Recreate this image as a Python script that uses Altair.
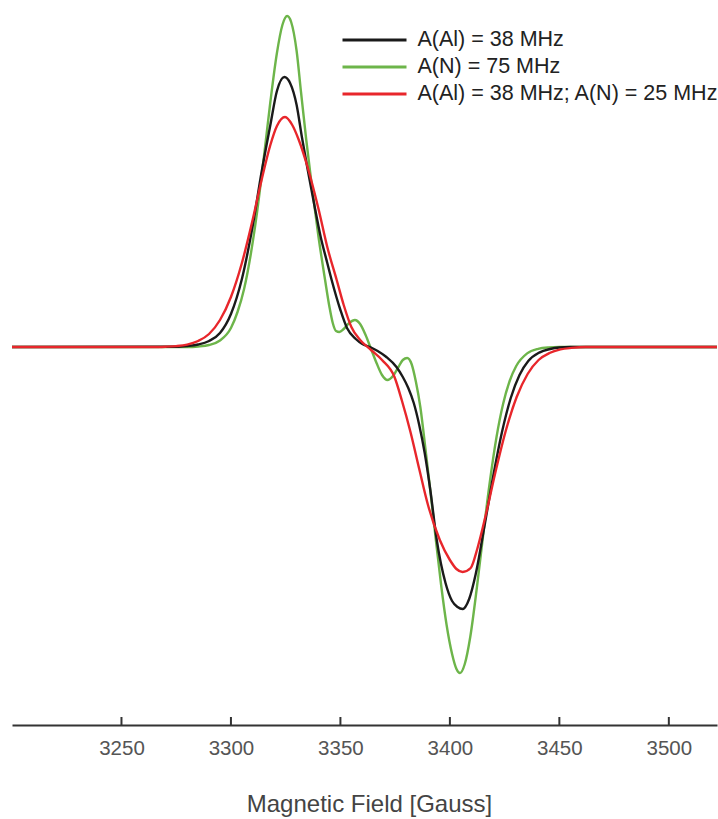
import altair as alt
import pandas as pd

LABELS = ["A(Al) = 38 MHz", "A(N) = 75 MHz", "A(Al) = 38 MHz; A(N) = 25 MHz"]
COLORS = ["#1a1a1a", "#6db54a", "#e8262b"]
tick_values = [3250, 3300, 3350, 3400, 3450, 3500]

# Magnetic field [Gauss] and derivative signal (arbitrary units)
black_field = [3200, 3275, 3280, 3285, 3290, 3295, 3300, 3305, 3310, 3314, 3318, 3321, 3324.4,
               3327, 3330, 3332.4, 3335, 3338, 3341, 3344, 3346, 3350, 3353, 3357, 3360, 3363.5,
               3367, 3371, 3375.6, 3378.5, 3381, 3383.5, 3386, 3388.5, 3391, 3394, 3398, 3401,
               3403.5, 3405.8, 3408.8, 3411.8, 3415.8, 3419.8, 3423.8, 3427.8, 3431.8, 3435.8,
               3440.8, 3445.8, 3450, 3455, 3522]
black_signal = [0, 0.2, 1, 2.5, 6, 14, 33, 68, 122, 175, 222, 256, 270,
                264, 242, 210, 178, 143, 110, 84, 67, 37, 19, 8, 3, 0,
                -4, -10, -20, -30, -41, -56, -78, -106, -142, -193, -236, -254,
                -260, -262, -252, -227, -179, -129, -85, -51, -28, -14,
                -5.6, -2, -0.5, 0, 0]

green_field = [3200, 3280, 3285, 3290, 3295, 3300, 3303, 3306, 3309, 3312, 3315, 3318, 3321,
               3323.5, 3325.7, 3327.5, 3330, 3332, 3334.4, 3337, 3340, 3343, 3345, 3346.5, 3348,
               3349.5, 3351.5, 3354, 3356.6, 3359, 3361.5, 3364, 3366.5, 3369, 3371.5, 3374,
               3376.5, 3378.5, 3380.5, 3382.5, 3384.5, 3386.5, 3389, 3391.5, 3393.6, 3396,
               3398.5, 3401, 3403, 3404.6, 3406.8, 3409.3, 3412.3, 3415.3, 3418.3, 3421.3,
               3424.3, 3427.3, 3430.3, 3435.3, 3440.3, 3445, 3450, 3522]
green_signal = [0, 0, 0.5, 2, 6.5, 19, 35, 58, 92, 136, 189, 245, 294,
                322, 331, 325, 296, 255, 207, 160, 110, 67, 40, 24, 16,
                15, 18, 24, 27, 23, 12, -2, -16, -28, -33, -29,
                -20, -13, -11, -17, -35, -60, -105, -152, -193, -238,
                -278, -307, -322, -326, -317, -290, -241, -186, -134, -90,
                -57, -34, -19, -6.4, -1.8, -0.4, 0, 0]

red_field = [3200, 3265, 3270, 3275, 3280, 3285, 3290, 3295, 3300, 3305, 3310, 3314, 3318,
             3321, 3324.7, 3328, 3331, 3335, 3340, 3344, 3348.3, 3351.5, 3355, 3359, 3364,
             3369, 3374.7, 3378, 3382, 3386, 3390, 3395.4, 3400, 3403, 3405.8, 3409.5,
             3412.5, 3416.5, 3420.5, 3425.5, 3430.5, 3435.5, 3440.5, 3445.5, 3450.5, 3455.5,
             3462, 3522]
red_signal = [0, 0, 0.3, 0.9, 2.4, 6, 13, 27, 50, 84, 128, 167, 202,
              221, 230, 222, 207, 180, 138, 100, 67, 42, 20, 7, -3,
              -13, -30, -53, -85, -122, -158, -193, -213, -222, -225, -221,
              -202, -167, -128, -84, -50, -27, -13, -6, -2.4, -0.9,
              0, 0]

series = [
    (LABELS[1], green_field, green_signal),
    (LABELS[0], black_field, black_signal),
    (LABELS[2], red_field, red_signal),
]
rows = []
for name, xs, ys in series:
    for x, y in zip(xs, ys):
        rows.append({"series": name, "field": x, "signal": y})
df = pd.DataFrame(rows)

W, H = 705, 725
FONT = "Liberation Sans"
x_scale = alt.Scale(domain=[3200, 3522], nice=False, zero=False)
y_scale = alt.Scale(domain=[-378, 347], nice=False, zero=False)

lines = alt.Chart(df).mark_line(strokeWidth=2.4, interpolate="monotone").encode(
    x=alt.X("field:Q", scale=x_scale,
            axis=alt.Axis(values=tick_values, format="d", title="Magnetic Field [Gauss]",
                          ticks=False, grid=False, domainColor="#333", domainWidth=2,
                          labelFont=FONT, labelFontSize=20.5, labelColor="#555",
                          labelPadding=13, titleFont=FONT, titleFontSize=24,
                          titleColor="#444", titleFontWeight="normal", titlePadding=34,
                          titleX=357)),
    y=alt.Y("signal:Q", scale=y_scale, axis=None),
    color=alt.Color("series:N", scale=alt.Scale(domain=LABELS, range=COLORS),
                    legend=alt.Legend(title=None, orient="none", legendX=329, legendY=26.5,
                                      symbolType="stroke", symbolSize=4096,
                                      symbolStrokeWidth=3, clipHeight=27, rowPadding=0,
                                      labelFont=FONT, labelFontSize=21.5, labelColor="#222",
                                      labelOffset=9.5, labelLimit=0, padding=0,
                                      symbolOffset=0)),
)

# short inward tick marks above the axis line (8 units = 8 px)
tick_df = pd.DataFrame({"field": tick_values, "base": [-378] * len(tick_values),
                        "top": [-370] * len(tick_values)})
ticks = alt.Chart(tick_df).mark_rule(color="#333", strokeWidth=2).encode(
    x=alt.X("field:Q", scale=x_scale),
    y=alt.Y("base:Q", scale=y_scale),
    y2=alt.Y2("top:Q"),
)

chart = alt.layer(lines, ticks).properties(
    width=W, height=H,
    padding={"left": 12, "top": 0, "right": 1, "bottom": 94},
    autosize=alt.AutoSizeParams(type="none"),
).configure_view(strokeWidth=0)

chart.save("out.html", embed_options={"renderer": "svg", "actions": False})
